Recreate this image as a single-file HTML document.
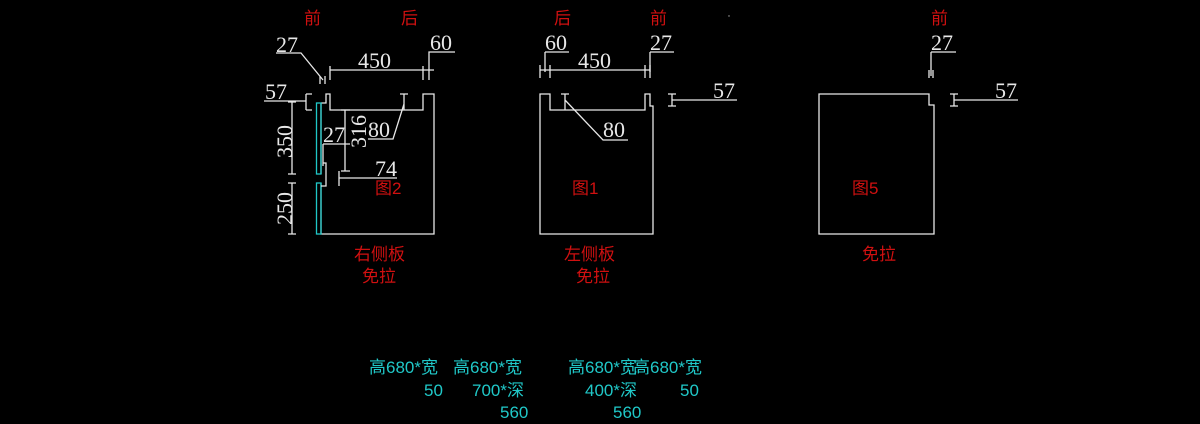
<!DOCTYPE html>
<html><head><meta charset="utf-8"><style>
html,body{margin:0;padding:0;background:#000;}
svg{display:block;}
.w{fill:none;stroke:#e8e8e8;stroke-width:1.3}
.t{font-family:"Liberation Serif",serif;font-size:22px;fill:#e8e8e8}
.r{font-family:"Liberation Sans","Noto Sans CJK SC",sans-serif;font-size:17px;fill:#d01010}
.c{font-family:"Liberation Sans","Noto Sans CJK SC",sans-serif;font-size:17px;fill:#20c8c8}
</style></head><body>
<svg width="1200" height="424" viewBox="0 0 1200 424" xmlns="http://www.w3.org/2000/svg">
<text class="r" x="304" y="24">前</text><text class="r" x="401" y="24">后</text>
<text class="r" x="554" y="24">后</text><text class="r" x="650" y="24">前</text>
<text class="r" x="931" y="24">前</text>
<circle cx="729" cy="16" r="0.7" fill="#aaa"/>

<path class="w" d="M321,103 V174 M321,183 V234 H434 V94 H423 V110 H330 V94 H326 V103 H321"/>
<rect x="316.5" y="103" width="4.5" height="71" fill="none" stroke="#20c8c8" stroke-width="1.3"/>
<rect x="316.5" y="183" width="4.5" height="51" fill="none" stroke="#20c8c8" stroke-width="1.3"/>
<path class="w" d="M323,163 H326 V186 H321"/>
<text class="t" x="276" y="52">27</text><path class="w" d="M276,53 H301 L323,80 M320,76 V84 M325,76 V84"/>
<text class="t" x="358" y="68">450</text><path class="w" d="M330,70 H434 M330,66 V80 M423,66 V80 M429,66 V80 M429,70 V52 H455"/>
<text class="t" x="430" y="50">60</text>
<text class="t" x="265" y="99">57</text><path class="w" d="M264,101 H306 M306,94 V110 M306,94 H312 M306,110 H312"/>
<path class="w" d="M292,102 V174 M292,183 V234 M288,102 H296 M288,174 H296 M288,183 H296 M288,234 H296"/>
<text class="t" transform="translate(292,158) rotate(-90)">350</text>
<text class="t" transform="translate(292,225) rotate(-90)">250</text>
<path class="w" d="M345,110 V171 M341,110 H350 M341,171 H350"/>
<text class="t" transform="translate(366,148) rotate(-90)">316</text>
<text class="t" x="323" y="142">27</text><path class="w" d="M323,144 H350 M323,144 V166"/>
<text class="t" x="375" y="176">74</text><path class="w" d="M339,178 H397 M339,171 V186"/>
<text class="t" x="368" y="137">80</text><path class="w" d="M368,139 H393 L404,104 M404,94 V110 M400,94 H408"/>
<text class="r" x="375" y="194">图2</text>
<text class="r" x="354" y="260">右侧板</text><text class="r" x="362" y="282">免拉</text>

<path class="w" d="M540,234 V94 H550 V110 H645 V94 H650 V106 H653 V234 Z"/>
<text class="t" x="545" y="50">60</text><path class="w" d="M545,52 H569 M545,52 V72"/>
<text class="t" x="578" y="68">450</text><path class="w" d="M540,70 H650 M540,65 V78 M550,65 V78 M645,65 V78 M650,65 V78"/>
<text class="t" x="650" y="50">27</text><path class="w" d="M650,52 H674 M650,52 V72"/>
<path class="w" d="M565,94 V110 M561,94 H569 M565,100 L603,140 H628"/>
<text class="t" x="603" y="137">80</text>
<path class="w" d="M672,94 V106 M672,100 H737 M668,94 H676 M668,106 H676"/>
<text class="t" x="713" y="98">57</text>
<text class="r" x="572" y="194">图1</text>
<text class="r" x="564" y="260">左侧板</text><text class="r" x="576" y="282">免拉</text>

<path class="w" d="M819,234 V94 H929 V105 H934 V234 Z"/>
<text class="t" x="931" y="50">27</text><path class="w" d="M931,52 H956 M931,52 V76 M929,70 V78 M933,70 V78"/>
<path class="w" d="M954,94 V106 M954,100 H1018 M950,94 H958 M950,106 H958"/>
<text class="t" x="995" y="98">57</text>
<text class="r" x="852" y="194">图5</text>
<text class="r" x="862" y="260">免拉</text>

<text class="c" x="369" y="373">高680*宽</text>
<text class="c" x="424" y="396">50</text>
<text class="c" x="453" y="373">高680*宽</text>
<text class="c" x="472" y="396">700*深</text>
<text class="c" x="500" y="418">560</text>
<text class="c" x="568" y="373">高680*宽</text>
<text class="c" x="633" y="373">高680*宽</text>
<text class="c" x="585" y="396">400*深</text>
<text class="c" x="613" y="418">560</text>
<text class="c" x="680" y="396">50</text>
</svg>
</body></html>
